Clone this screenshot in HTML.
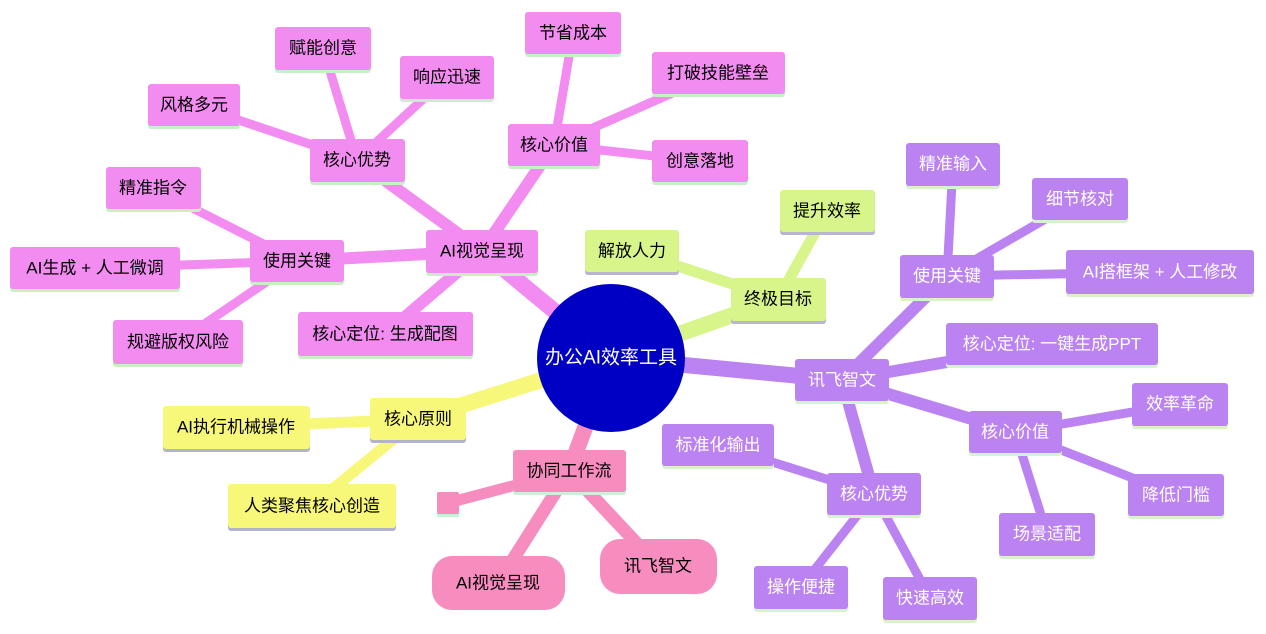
<!DOCTYPE html>
<html><head><meta charset="utf-8"><style>
html,body{margin:0;padding:0;background:#fff;}
svg{display:block}
text{font-family:"Liberation Sans","Noto Sans CJK SC",sans-serif;font-size:17px;dominant-baseline:central;text-anchor:middle}
.m rect.b{fill:#f28cf0}.m rect.s{fill:#c9efc9}
.l rect.b{fill:#d7f58a}.l rect.s{fill:#b7b5cf}
.y rect.b{fill:#f7f779}.y rect.s{fill:#b3b3cc}
.p rect.b{fill:#bb82f1}.p rect.s{fill:#d8f3cc}
.p text{fill:#fff}
</style></head><body>
<svg width="1266" height="634" viewBox="0 0 1266 634" xmlns="http://www.w3.org/2000/svg">
<g stroke-linecap="butt" fill="none">
<!-- magenta -->
<g stroke="#f28cf0">
<line x1="611" y1="358" x2="482" y2="251" stroke-width="16"/>
<line x1="482" y1="251" x2="357" y2="160" stroke-width="12"/>
<line x1="482" y1="251" x2="554" y2="145" stroke-width="12"/>
<line x1="482" y1="251" x2="297" y2="261" stroke-width="12"/>
<line x1="482" y1="251" x2="385" y2="334" stroke-width="12"/>
<line x1="554" y1="145" x2="573" y2="33" stroke-width="9"/>
<line x1="554" y1="145" x2="718" y2="73" stroke-width="9"/>
<line x1="554" y1="145" x2="700" y2="161" stroke-width="9"/>
<line x1="357" y1="160" x2="323" y2="48" stroke-width="9"/>
<line x1="357" y1="160" x2="447" y2="77" stroke-width="9"/>
<line x1="357" y1="160" x2="194" y2="105" stroke-width="9"/>
<line x1="297" y1="261" x2="153" y2="188" stroke-width="9"/>
<line x1="297" y1="261" x2="95" y2="268" stroke-width="9"/>
<line x1="297" y1="261" x2="178" y2="342" stroke-width="9"/>
</g>
<g stroke="#d7f58a">
<line x1="611" y1="358" x2="778" y2="299" stroke-width="16"/>
<line x1="778" y1="299" x2="632" y2="251" stroke-width="11"/>
<line x1="778" y1="299" x2="827" y2="211" stroke-width="11"/>
</g>
<g stroke="#f7f779">
<line x1="611" y1="358" x2="418" y2="419" stroke-width="16"/>
<line x1="418" y1="419" x2="236" y2="427" stroke-width="11"/>
<line x1="418" y1="419" x2="312" y2="506" stroke-width="11"/>
</g>
<g stroke="#f78cbf">
<line x1="611" y1="358" x2="569" y2="471" stroke-width="16"/>
<line x1="569" y1="471" x2="448" y2="503" stroke-width="11"/>
<line x1="569" y1="471" x2="498" y2="583" stroke-width="13"/>
<line x1="569" y1="471" x2="658" y2="566" stroke-width="13"/>
</g>
<g stroke="#bb82f1">
<line x1="611" y1="358" x2="842" y2="380" stroke-width="16"/>
<line x1="842" y1="380" x2="947" y2="276" stroke-width="12"/>
<line x1="842" y1="380" x2="1052" y2="344" stroke-width="12"/>
<line x1="842" y1="380" x2="1015" y2="432" stroke-width="12"/>
<line x1="842" y1="380" x2="874" y2="494" stroke-width="12"/>
<line x1="947" y1="276" x2="953" y2="164" stroke-width="9"/>
<line x1="947" y1="276" x2="1080" y2="199" stroke-width="9"/>
<line x1="947" y1="276" x2="1160" y2="272" stroke-width="9"/>
<line x1="1015" y1="432" x2="1180" y2="404" stroke-width="9"/>
<line x1="1015" y1="432" x2="1176" y2="495" stroke-width="9"/>
<line x1="1015" y1="432" x2="1047" y2="534" stroke-width="9"/>
<line x1="874" y1="494" x2="718" y2="445" stroke-width="9"/>
<line x1="874" y1="494" x2="801" y2="587" stroke-width="9"/>
<line x1="874" y1="494" x2="930" y2="598" stroke-width="9"/>
</g>
</g>

<g class="m">
<rect class="s" x="525" y="15" width="96" height="42" rx="3"/><rect class="b" x="525" y="12" width="96" height="42" rx="3"/><text x="573" y="33">节省成本</text>
<rect class="s" x="652" y="55" width="133" height="42" rx="3"/><rect class="b" x="652" y="52" width="133" height="42" rx="3"/><text x="718" y="73">打破技能壁垒</text>
<rect class="s" x="508" y="127" width="92" height="42" rx="3"/><rect class="b" x="508" y="124" width="92" height="42" rx="3"/><text x="554" y="145">核心价值</text>
<rect class="s" x="652" y="143" width="96" height="42" rx="3"/><rect class="b" x="652" y="140" width="96" height="42" rx="3"/><text x="700" y="161">创意落地</text>
<rect class="s" x="275" y="30" width="96" height="43" rx="3"/><rect class="b" x="275" y="27" width="96" height="43" rx="3"/><text x="323" y="48">赋能创意</text>
<rect class="s" x="400" y="59" width="94" height="43" rx="3"/><rect class="b" x="400" y="56" width="94" height="43" rx="3"/><text x="447" y="77">响应迅速</text>
<rect class="s" x="148" y="87" width="92" height="42" rx="3"/><rect class="b" x="148" y="84" width="92" height="42" rx="3"/><text x="194" y="105">风格多元</text>
<rect class="s" x="310" y="142" width="95" height="43" rx="3"/><rect class="b" x="310" y="139" width="95" height="43" rx="3"/><text x="357" y="160">核心优势</text>
<rect class="s" x="106" y="170" width="95" height="42" rx="3"/><rect class="b" x="106" y="167" width="95" height="42" rx="3"/><text x="153" y="188">精准指令</text>
<rect class="s" x="250" y="243" width="94" height="42" rx="3"/><rect class="b" x="250" y="240" width="94" height="42" rx="3"/><text x="297" y="261">使用关键</text>
<rect class="s" x="10" y="250" width="170" height="42" rx="3"/><rect class="b" x="10" y="247" width="170" height="42" rx="3"/><text x="95" y="268">AI生成 + 人工微调</text>
<rect class="s" x="426" y="233" width="112" height="43" rx="3"/><rect class="b" x="426" y="230" width="112" height="43" rx="3"/><text x="482" y="251">AI视觉呈现</text>
<rect class="s" x="113" y="323" width="130" height="44" rx="3"/><rect class="b" x="113" y="320" width="130" height="44" rx="3"/><text x="178" y="342">规避版权风险</text>
<rect class="s" x="298" y="315" width="175" height="44" rx="3"/><rect class="b" x="298" y="312" width="175" height="44" rx="3"/><text x="385" y="334">核心定位: 生成配图</text>
</g>
<g class="l">
<rect class="s" x="780" y="193" width="95" height="42" rx="3"/><rect class="b" x="780" y="190" width="95" height="42" rx="3"/><text x="827" y="211">提升效率</text>
<rect class="s" x="585" y="233" width="94" height="42" rx="3"/><rect class="b" x="585" y="230" width="94" height="42" rx="3"/><text x="632" y="251">解放人力</text>
<rect class="s" x="731" y="281" width="95" height="43" rx="3"/><rect class="b" x="731" y="278" width="95" height="43" rx="3"/><text x="778" y="299">终极目标</text>
</g>
<g class="y">
<rect class="s" x="370" y="401" width="96" height="42" rx="3"/><rect class="b" x="370" y="398" width="96" height="42" rx="3"/><text x="418" y="419">核心原则</text>
<rect class="s" x="163" y="409" width="147" height="43" rx="3"/><rect class="b" x="163" y="406" width="147" height="43" rx="3"/><text x="236" y="427">AI执行机械操作</text>
<rect class="s" x="228" y="487" width="168" height="44" rx="3"/><rect class="b" x="228" y="484" width="168" height="44" rx="3"/><text x="312" y="506">人类聚焦核心创造</text>
</g>
<g>
<rect x="513" y="453" width="113" height="42" rx="3" fill="#cfeed6"/><rect x="513" y="450" width="113" height="42" rx="3" fill="#f78cbf"/><text x="569" y="471">协同工作流</text>
<rect x="437" y="495" width="22" height="22" rx="2" fill="#cfeed6"/><rect x="437" y="492" width="22" height="22" rx="2" fill="#f78cbf"/>
<rect x="432" y="556" width="133" height="54" rx="20" fill="#f78cbf"/><text x="498" y="583">AI视觉呈现</text>
<rect x="600" y="539" width="117" height="55" rx="20" fill="#f78cbf"/><text x="658" y="566">讯飞智文</text>
</g>
<g class="p">
<rect class="s" x="906" y="146" width="94" height="43" rx="3"/><rect class="b" x="906" y="143" width="94" height="43" rx="3"/><text x="953" y="164">精准输入</text>
<rect class="s" x="1032" y="181" width="96" height="42" rx="3"/><rect class="b" x="1032" y="178" width="96" height="42" rx="3"/><text x="1080" y="199">细节核对</text>
<rect class="s" x="900" y="258" width="94" height="43" rx="3"/><rect class="b" x="900" y="255" width="94" height="43" rx="3"/><text x="947" y="276">使用关键</text>
<rect class="s" x="1066" y="253" width="188" height="44" rx="3"/><rect class="b" x="1066" y="250" width="188" height="44" rx="3"/><text x="1160" y="272">AI搭框架 + 人工修改</text>
<rect class="s" x="946" y="326" width="212" height="42" rx="3"/><rect class="b" x="946" y="323" width="212" height="42" rx="3"/><text x="1052" y="344">核心定位: 一键生成PPT</text>
<rect class="s" x="795" y="362" width="94" height="42" rx="3"/><rect class="b" x="795" y="359" width="94" height="42" rx="3"/><text x="842" y="380">讯飞智文</text>
<rect class="s" x="1132" y="386" width="96" height="43" rx="3"/><rect class="b" x="1132" y="383" width="96" height="43" rx="3"/><text x="1180" y="404">效率革命</text>
<rect class="s" x="969" y="414" width="93" height="42" rx="3"/><rect class="b" x="969" y="411" width="93" height="42" rx="3"/><text x="1015" y="432">核心价值</text>
<rect class="s" x="662" y="427" width="112" height="42" rx="3"/><rect class="b" x="662" y="424" width="112" height="42" rx="3"/><text x="718" y="445">标准化输出</text>
<rect class="s" x="1128" y="477" width="96" height="42" rx="3"/><rect class="b" x="1128" y="474" width="96" height="42" rx="3"/><text x="1176" y="495">降低门槛</text>
<rect class="s" x="999" y="516" width="96" height="43" rx="3"/><rect class="b" x="999" y="513" width="96" height="43" rx="3"/><text x="1047" y="534">场景适配</text>
<rect class="s" x="827" y="476" width="94" height="42" rx="3"/><rect class="b" x="827" y="473" width="94" height="42" rx="3"/><text x="874" y="494">核心优势</text>
<rect class="s" x="754" y="569" width="94" height="43" rx="3"/><rect class="b" x="754" y="566" width="94" height="43" rx="3"/><text x="801" y="587">操作便捷</text>
<rect class="s" x="883" y="580" width="94" height="43" rx="3"/><rect class="b" x="883" y="577" width="94" height="43" rx="3"/><text x="930" y="598">快速高效</text>
</g>
<circle cx="611" cy="358" r="74" fill="#0000c4"/>
<text x="611" y="358" fill="#fff" style="font-size:19px">办公AI效率工具</text>
</svg>
</body></html>
